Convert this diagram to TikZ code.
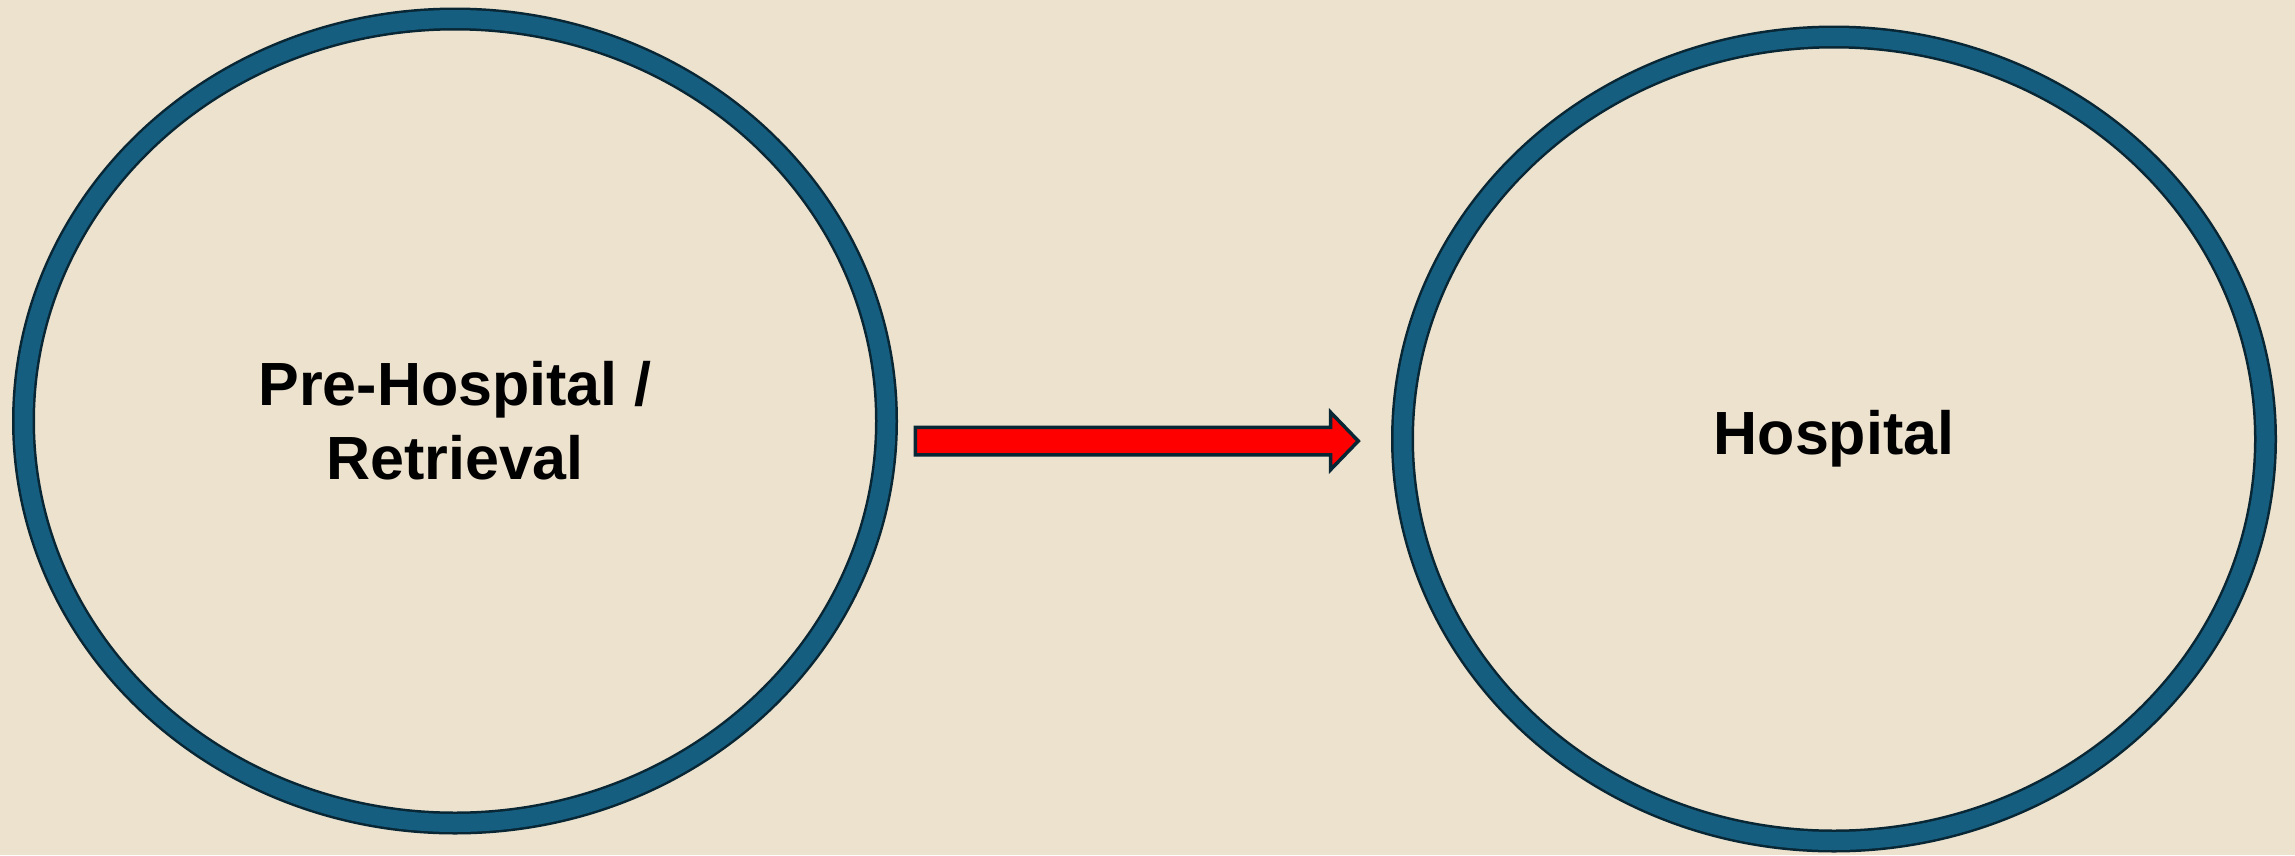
\documentclass[tikz,border=0pt]{standalone}
\usepackage{fontspec}
\setmainfont{Liberation Sans}
\usepackage{tikz}
\usetikzlibrary{positioning,shapes.geometric,shapes.arrows}
\definecolor{paper}{RGB}{237,226,206}
\definecolor{ringblue}{RGB}{22,94,128}
\definecolor{ringedge}{RGB}{8,38,52}
\definecolor{flowred}{RGB}{255,0,0}

\begin{document}
\begin{tikzpicture}[x=1pt, y=-1pt,
      stage/.style={ellipse, draw=ringedge, line width=2.5pt, double=ringblue,
                    double distance=18pt, minimum width=863pt, minimum height=804pt,
                    inner sep=0pt, align=center, font=\fontsize{61}{74}\selectfont\bfseries},
      flow/.style={single arrow, draw=ringedge, line width=3.5pt, fill=flowred,
                   inner sep=0pt, text height=24pt, text depth=0pt,
                   minimum height=443pt, minimum width=54pt,
                   single arrow head extend=15pt, single arrow tip angle=92}]
    \fill[paper] (0,0) rectangle (2295,855);
    \useasboundingbox (0,0) rectangle (2295,855);
    \node[stage] (pre) at (455,421) {Pre-Hospital /\\Retrieval};
    \node[stage] (hosp) at (1834,439) {Hospital};
    \node[flow, anchor=west] (move) at (913.5,441) {};
  \end{tikzpicture}
\end{document}
